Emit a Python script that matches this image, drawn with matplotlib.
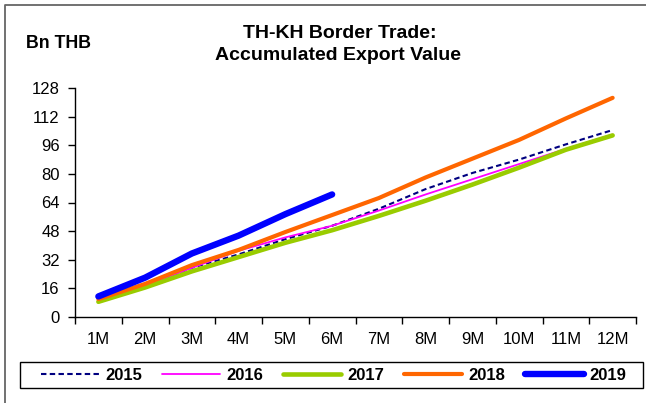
import matplotlib
matplotlib.use("Agg")
import matplotlib.pyplot as plt
from matplotlib.lines import Line2D
from matplotlib.patches import Rectangle
import numpy as np

# Accumulated monthly export value, billion THB
months = ["1M", "2M", "3M", "4M", "5M", "6M", "7M", "8M", "9M", "10M", "11M", "12M"]
y2015 = [9.5, 17.5, 27.5, 35.0, 43.5, 51.0, 60.5, 71.5, 80.5, 88.0, 96.5, 104.5]
y2016 = [9.5, 17.5, 27.5, 37.0, 44.5, 51.0, 59.5, 68.5, 77.0, 85.5, 94.0, 102.0]
y2017 = [8.5, 16.5, 25.5, 33.5, 41.5, 48.5, 56.5, 65.0, 74.0, 83.5, 93.5, 101.5]
y2018 = [10.0, 18.5, 29.0, 37.5, 47.5, 57.0, 66.5, 78.0, 88.5, 99.0, 111.0, 122.5]
y2019 = [11.5, 22.0, 35.5, 45.5, 57.5, 68.5]
yticks = [0, 16, 32, 48, 64, 80, 96, 112, 128]

plt.rcParams["font.family"] = ["Liberation Sans", "DejaVu Sans"]

W, H = 646, 403
fig = plt.figure(figsize=(W / 100, H / 100), dpi=100)
ax = fig.add_axes([75 / W, 1 - 317 / H, (636 - 75) / W, (317 - 88) / H])

x = np.arange(len(months))
ax.plot(x, y2015, color="#000080", lw=1.5, ls=(0, (2.6, 1.6)), label="2015")
ax.plot(x, y2016, color="#FF00FF", lw=1.3, solid_capstyle="round", label="2016")
ax.plot(x, y2017, color="#99CC00", lw=3.3, solid_capstyle="round", label="2017")
ax.plot(x, y2018, color="#FF6600", lw=3.0, solid_capstyle="round", label="2018")
ax.plot(x[:len(y2019)], y2019, color="#0000FF", lw=4.6, solid_capstyle="round", label="2019")

ax.set_xlim(-0.5, len(months) - 0.5)
ax.set_ylim(0, 128)
ax.set_yticks(yticks)
ax.set_xticks(x)
ax.set_xticklabels(months)
ax.set_xticks(np.arange(-0.5, len(months), 1.0), minor=True)
ax.tick_params(axis="x", which="major", length=0, pad=11, labelsize=12)
ax.tick_params(axis="x", which="minor", length=5, width=1, direction="out")
ax.tick_params(axis="y", length=5, width=1, direction="out", pad=6, labelsize=12)
for s in ("top", "right"):
    ax.spines[s].set_visible(False)
for s in ("left", "bottom"):
    ax.spines[s].set_linewidth(1)

fig.text(340 / W, 1 - 33 / H, "TH-KH Border Trade:", ha="center", va="center",
         fontsize=14, fontweight="bold")
fig.text(338 / W, 1 - 56 / H, "Accumulated Export Value", ha="center", va="center",
         fontsize=14, fontweight="bold")
fig.text(26 / W, 1 - 44 / H, "Bn THB", ha="left", va="center",
         fontsize=12.8, fontweight="bold")

# legend entries inside a plain rectangular frame
fig.add_artist(Rectangle((20 / W, 1 - 388 / H), 623 / W, 26 / H,
                         transform=fig.transFigure, fill=False,
                         edgecolor="black", lw=1))
leg = fig.legend(loc="center left", ncol=5,
                 bbox_to_anchor=(41 / W, 1 - 375 / H),
                 prop={"weight": "bold", "size": 12}, handlelength=3.5,
                 handletextpad=0.35, columnspacing=1.2, borderpad=0,
                 frameon=False, borderaxespad=0)

# outer chart frame
fig.add_artist(Line2D([4.5 / W, 4.5 / W, 1.0], [0.0, 1 - 4.5 / H, 1 - 4.5 / H],
                      transform=fig.transFigure, color="#666666", lw=1.3))

fig.savefig("out.png", dpi=100)
